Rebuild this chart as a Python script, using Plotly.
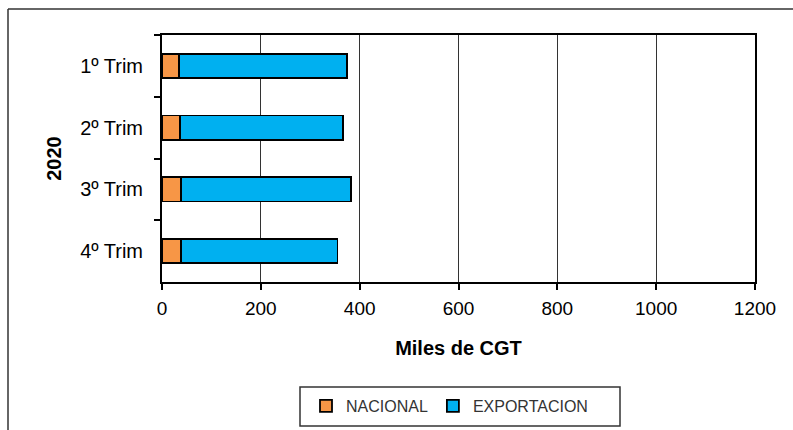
import plotly.graph_objects as go

categorias = ["1º Trim", "2º Trim", "3º Trim", "4º Trim"]
nacional = [34, 36, 39, 38]
exportacion = [341, 331, 343, 317]
x_ticks = [0, 200, 400, 600, 800, 1000, 1200]

FONT = "Liberation Sans, Arial, sans-serif"
W, H = 793, 430
L, R, T, B = 162, 38, 35, 148
pw, ph = W - L - R, H - T - B

def px_x(p):
    return (p - L) / pw

def px_y(p):
    return (H - B - p) / ph

fig = go.Figure()
fig.add_trace(go.Bar(
    y=categorias, x=nacional, name="NACIONAL", orientation="h",
    marker=dict(color="#F79646", line=dict(color="#000000", width=1.8)),
))
fig.add_trace(go.Bar(
    y=categorias, x=exportacion, name="EXPORTACION", orientation="h",
    marker=dict(color="#00B0F0", line=dict(color="#000000", width=1.8)),
))

fig.update_layout(
    width=W, height=H,
    margin=dict(l=L, r=R, t=T, b=B, autoexpand=False),
    barmode="stack", bargap=0.61,
    paper_bgcolor="white", plot_bgcolor="white",
    font=dict(family=FONT, color="#000000"),
    showlegend=True,
    legend=dict(
        orientation="h", x=px_x(306), xanchor="left", y=px_y(389), yanchor="top",
        borderwidth=0, bgcolor="rgba(0,0,0,0)",
        font=dict(size=16, color="#333333", family=FONT),
        itemwidth=30, traceorder="normal",
    ),
    xaxis=dict(
        range=[0, 1200], tickvals=x_ticks, ticktext=[str(v) for v in x_ticks],
        showgrid=True, gridcolor="#333333", gridwidth=1,
        showline=True, linecolor="#000000", linewidth=2, mirror=True,
        ticks="outside", ticklen=6, tickcolor="#000000", tickwidth=1.5,
        ticklabelstandoff=2,
        tickfont=dict(size=19, color="#000000"),
        title=dict(text="<b>Miles de CGT</b>", font=dict(size=20), standoff=23),
        zeroline=False,
    ),
    yaxis=dict(
        categoryorder="array", categoryarray=categorias, autorange="reversed",
        showline=True, linecolor="#000000", linewidth=2, mirror=True,
        ticks="outside", ticklen=6, tickcolor="#000000", tickwidth=1.5,
        tickson="boundaries", ticklabelstandoff=13,
        tickfont=dict(size=20, color="#000000"),
        showgrid=False,
        title=dict(text="<b>2020</b>", font=dict(size=20), standoff=13),
    ),
    shapes=[
        dict(type="line", xref="paper", yref="paper",
             x0=px_x(8), x1=px_x(800), y0=px_y(9), y1=px_y(9),
             line=dict(color="#333333", width=1.5)),
        dict(type="line", xref="paper", yref="paper",
             x0=px_x(8), x1=px_x(8), y0=px_y(9), y1=px_y(440),
             line=dict(color="#333333", width=1.5)),
        dict(type="rect", xref="paper", yref="paper",
             x0=px_x(300), x1=px_x(620), y0=px_y(387), y1=px_y(426),
             line=dict(color="#333333", width=1.5), fillcolor="rgba(0,0,0,0)"),
    ],
)

fig.write_html("out.html", config={"displayModeBar": False},
               post_script="document.body.style.margin='0';")
